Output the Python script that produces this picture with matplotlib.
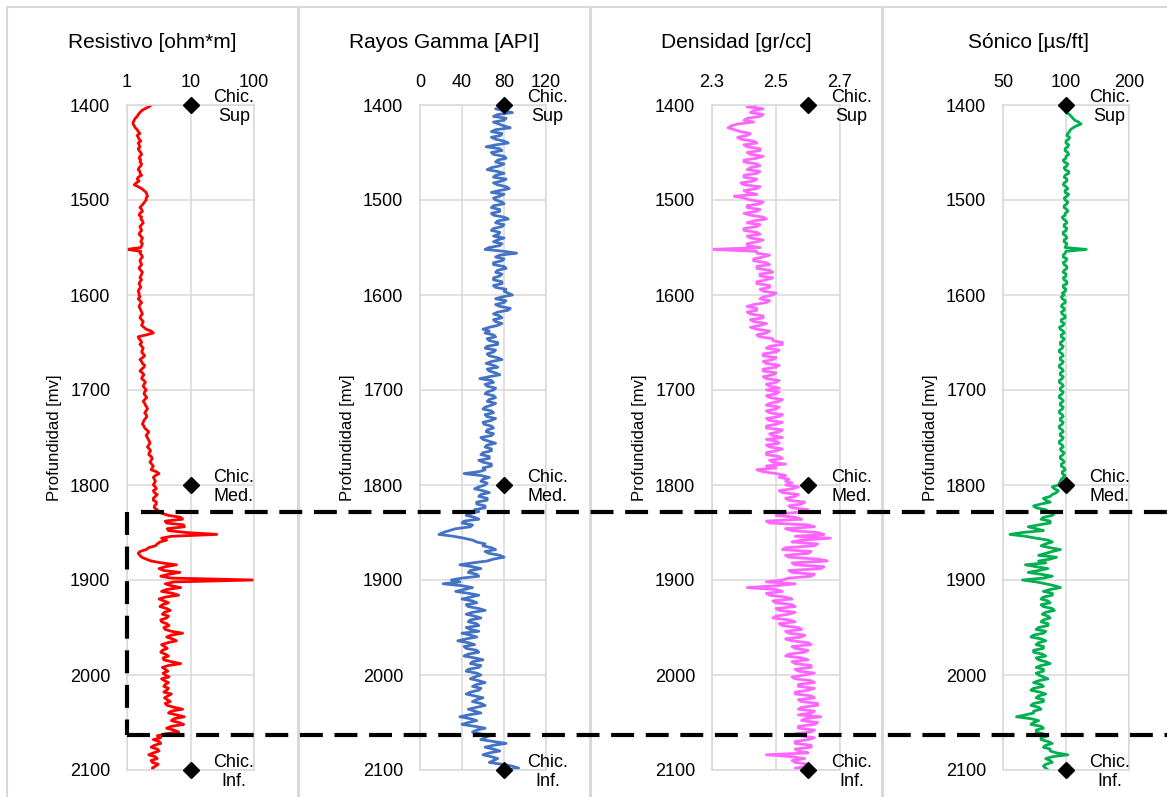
import matplotlib
matplotlib.use("Agg")
import matplotlib.pyplot as plt
import numpy as np
from matplotlib.lines import Line2D
from matplotlib.patches import Rectangle
from matplotlib.transforms import blended_transform_factory

plt.rcParams['font.family'] = ['Liberation Sans', 'DejaVu Sans']

# depth of each sample [mv], one reading every 2 m
depth = np.arange(1400, 2101, 2)

resistivo = [
    2.4, 2.2, 1.9, 1.7, 1.6, 1.5, 1.45, 1.35, 1.3, 1.25, 1.25, 1.3, 1.35, 1.45, 1.5, 1.6, 1.45, 1.5, 1.55, 1.65,
    1.5, 1.55, 1.6, 1.5, 1.55, 1.65, 1.7, 1.6, 1.55, 1.65, 1.6, 1.7, 1.65, 1.55, 1.5, 1.6, 1.6, 1.7, 1.5, 1.45,
    1.55, 1.4, 1.3, 1.5, 1.7, 1.85, 2.0, 2.05, 2.1, 2.0,
    2.0, 1.9, 1.8, 1.7, 1.6, 1.7, 1.75, 1.6, 1.55, 1.7, 1.65, 1.75, 1.8, 1.7, 1.6, 1.65, 1.7, 1.6, 1.55, 1.65,
    1.75, 1.7, 1.65, 1.75, 1.7, 1.65, 1.0, 1.65, 1.6, 1.7, 1.75, 1.65, 1.6, 1.65, 1.7, 1.6, 1.55, 1.65, 1.75, 1.7,
    1.65, 1.6, 1.7, 1.6, 1.55, 1.6, 1.65, 1.55, 1.5, 1.55,
    1.55, 1.6, 1.5, 1.6, 1.7, 1.6, 1.55, 1.6, 1.65, 1.7, 1.75, 1.65, 1.6, 1.7, 1.8, 1.75, 1.7, 1.85, 2.0, 2.4,
    2.6, 2.0, 1.5, 1.55, 1.65, 1.7, 1.6, 1.7, 1.8, 1.75, 1.7, 1.8, 1.9, 1.75, 1.6, 1.7, 1.75, 1.9, 1.85, 1.7,
    1.6, 1.75, 1.85, 1.75, 1.7, 1.85, 1.95, 1.85, 1.8, 1.9,
    2.0, 1.9, 1.85, 1.95, 2.05, 1.9, 1.8, 1.9, 1.95, 2.05, 2.1, 2.0, 1.9, 2.0, 2.05, 1.95, 1.85, 1.8, 1.75, 1.85,
    1.9, 2.05, 2.2, 2.1, 2.0, 2.1, 2.15, 2.25, 2.3, 2.2, 2.1, 2.25, 2.35, 2.25, 2.2, 2.4, 2.5, 2.4, 2.3, 2.45,
    2.6, 2.5, 2.4, 2.9, 3.2, 2.8, 2.6, 2.7, 2.8, 2.7,
    2.6, 2.8, 2.9, 2.6, 2.7, 3.0, 2.8, 2.6, 2.6, 2.9, 2.9, 2.7, 2.7, 3.0, 3.0, 3.6, 4.5, 7.0, 7.5, 4.0,
    4.2, 7.8, 8.0, 4.3, 4.5, 8.5, 26, 5.0, 3.5, 4.2, 3.3, 3.0, 2.8, 2.2, 2.0, 1.6, 1.5, 1.6, 1.7, 2.0,
    2.4, 3.5, 6.0, 4.0, 3.2, 3.8, 6.8, 4.5, 3.4, 5.0,
    100, 5.5, 4.0, 5.0, 7.0, 4.2, 3.5, 5.2, 6.5, 4.0, 3.2, 3.8, 4.5, 3.6, 3.3, 4.2, 4.8, 3.9, 3.6, 4.5,
    4.2, 3.4, 3.5, 4.2, 4.6, 3.8, 4.0, 5.0, 7.5, 5.0, 4.2, 5.2, 6.0, 4.4, 3.5, 3.9, 4.3, 3.6, 3.4, 4.0,
    4.5, 3.7, 3.8, 5.0, 7.0, 4.5, 3.6, 4.0, 4.4, 3.7,
    4.0, 4.6, 3.5, 3.9, 4.5, 4.0, 3.8, 4.5, 4.2, 3.8, 5.0, 4.4, 3.9, 4.3, 4.8, 4.0, 4.3, 5.5, 7.5, 5.0,
    4.5, 6.0, 8.0, 5.5, 5.0, 6.5, 7.8, 5.0, 4.2, 5.5, 6.5, 4.0, 3.0, 3.4, 2.6, 3.2, 3.4, 2.7, 2.4, 3.0,
    3.2, 2.6, 2.2, 2.8, 3.0, 2.4, 2.5, 3.1, 2.8, 2.5,
    2.6]

gamma = [
    78, 84, 72, 80, 88, 74, 70, 82, 80, 70, 75, 80, 86, 72, 68, 78, 77, 68, 72, 80,
    84, 72, 63, 76, 78, 68, 70, 80, 82, 74, 72, 80, 76, 68, 64, 74, 80, 72, 70, 82,
    78, 70, 74, 82, 85, 76, 68, 80, 76, 70,
    72, 78, 80, 70, 68, 76, 76, 68, 70, 80, 84, 74, 72, 80, 78, 70, 68, 76, 75, 70,
    80, 74, 70, 78, 76, 66, 62, 80, 92, 76, 72, 80, 78, 70, 70, 80, 82, 74, 72, 78,
    76, 70, 70, 78, 78, 70, 72, 82, 80, 84,
    88, 78, 72, 82, 80, 72, 76, 86, 84, 74, 70, 76, 78, 70, 72, 78, 74, 66, 60, 66,
    62, 70, 72, 64, 66, 74, 74, 64, 62, 72, 70, 64, 66, 74, 78, 68, 63, 70, 74, 64,
    66, 72, 76, 66, 57, 68, 70, 62, 64, 72,
    70, 64, 62, 70, 72, 66, 64, 72, 68, 62, 60, 68, 70, 62, 64, 72, 68, 60, 61, 68,
    70, 64, 63, 70, 68, 58, 60, 66, 72, 64, 62, 68, 68, 60, 58, 66, 66, 56, 60, 68,
    68, 60, 62, 56, 42, 58, 66, 60, 58, 64,
    62, 56, 52, 60, 66, 58, 56, 64, 64, 54, 54, 62, 62, 52, 56, 48, 44, 52, 56, 42,
    40, 50, 48, 34, 28, 22, 18, 32, 42, 50, 54, 62, 60, 68, 72, 62, 66, 76, 80, 70,
    64, 50, 38, 50, 58, 48, 46, 54, 56, 40,
    30, 38, 22, 40, 50, 42, 34, 46, 56, 48, 40, 50, 54, 44, 46, 56, 62, 50, 44, 52,
    58, 48, 46, 54, 56, 44, 48, 56, 40, 48, 54, 44, 36, 46, 52, 42, 44, 54, 56, 46,
    42, 52, 60, 50, 48, 58, 56, 46, 44, 54,
    58, 52, 48, 56, 62, 54, 50, 58, 56, 48, 44, 52, 60, 54, 50, 58, 62, 54, 46, 52,
    58, 46, 38, 48, 54, 46, 40, 52, 62, 54, 50, 58, 66, 62, 58, 70, 82, 70, 62, 70,
    76, 66, 60, 68, 74, 70, 66, 78, 88, 94,
    84]

densidad = [
    2.44, 2.41, 2.46, 2.43, 2.42, 2.46, 2.45, 2.41, 2.40, 2.43, 2.38, 2.36, 2.35, 2.37, 2.39, 2.42, 2.41, 2.38, 2.39, 2.43,
    2.44, 2.40, 2.41, 2.45, 2.45, 2.41, 2.42, 2.46, 2.44, 2.40, 2.40, 2.44, 2.45, 2.42, 2.41, 2.45, 2.44, 2.40, 2.40, 2.44,
    2.43, 2.39, 2.40, 2.45, 2.44, 2.40, 2.41, 2.44, 2.37, 2.40,
    2.42, 2.46, 2.45, 2.41, 2.41, 2.45, 2.44, 2.40, 2.42, 2.46, 2.47, 2.43, 2.41, 2.45, 2.44, 2.40, 2.40, 2.44, 2.45, 2.41,
    2.42, 2.46, 2.44, 2.41, 2.41, 2.45, 2.30, 2.44, 2.44, 2.48, 2.46, 2.43, 2.43, 2.47, 2.48, 2.44, 2.44, 2.48, 2.49, 2.45,
    2.45, 2.49, 2.47, 2.44, 2.44, 2.48, 2.48, 2.45, 2.46, 2.50,
    2.49, 2.46, 2.45, 2.48, 2.47, 2.43, 2.41, 2.44, 2.44, 2.41, 2.42, 2.46, 2.46, 2.42, 2.43, 2.47, 2.45, 2.42, 2.44, 2.48,
    2.47, 2.44, 2.45, 2.49, 2.49, 2.52, 2.52, 2.48, 2.47, 2.51, 2.50, 2.46, 2.46, 2.50, 2.49, 2.46, 2.47, 2.51, 2.50, 2.46,
    2.46, 2.50, 2.49, 2.46, 2.47, 2.51, 2.50, 2.47, 2.48, 2.51,
    2.47, 2.51, 2.50, 2.47, 2.48, 2.52, 2.51, 2.48, 2.47, 2.51, 2.50, 2.47, 2.48, 2.52, 2.51, 2.47, 2.48, 2.52, 2.50, 2.47,
    2.47, 2.52, 2.51, 2.48, 2.49, 2.52, 2.47, 2.50, 2.51, 2.47, 2.48, 2.52, 2.50, 2.47, 2.47, 2.51, 2.52, 2.48, 2.49, 2.53,
    2.47, 2.50, 2.44, 2.46, 2.50, 2.53, 2.51, 2.54, 2.53, 2.55,
    2.53, 2.57, 2.55, 2.51, 2.52, 2.57, 2.56, 2.53, 2.54, 2.59, 2.58, 2.54, 2.55, 2.60, 2.60, 2.52, 2.50, 2.56, 2.58, 2.47,
    2.48, 2.60, 2.62, 2.53, 2.55, 2.63, 2.65, 2.56, 2.67, 2.58, 2.55, 2.63, 2.62, 2.53, 2.52, 2.61, 2.60, 2.53, 2.54, 2.63,
    2.66, 2.55, 2.56, 2.65, 2.64, 2.54, 2.55, 2.62, 2.61, 2.54,
    2.52, 2.47, 2.56, 2.50, 2.41, 2.50, 2.52, 2.47, 2.48, 2.53, 2.55, 2.49, 2.50, 2.55, 2.56, 2.50, 2.51, 2.56, 2.54, 2.50,
    2.49, 2.54, 2.56, 2.51, 2.52, 2.57, 2.58, 2.53, 2.54, 2.59, 2.58, 2.53, 2.55, 2.60, 2.61, 2.55, 2.56, 2.60, 2.59, 2.54,
    2.53, 2.58, 2.60, 2.55, 2.56, 2.61, 2.61, 2.56, 2.57, 2.62,
    2.59, 2.55, 2.56, 2.61, 2.62, 2.57, 2.57, 2.62, 2.60, 2.56, 2.56, 2.61, 2.62, 2.57, 2.58, 2.63, 2.63, 2.58, 2.57, 2.62,
    2.61, 2.57, 2.64, 2.59, 2.58, 2.63, 2.62, 2.57, 2.57, 2.62, 2.61, 2.56, 2.58, 2.62, 2.60, 2.56, 2.56, 2.61, 2.61, 2.56,
    2.57, 2.60, 2.47, 2.55, 2.59, 2.55, 2.56, 2.60, 2.60, 2.56,
    2.58]

sonico = [
    95, 100, 104, 102, 100, 104, 106, 108, 110, 115, 118, 112, 108, 105, 104, 102, 101, 104, 103, 100,
    100, 103, 102, 99, 99, 102, 103, 100, 100, 97, 98, 102, 101, 98, 99, 103, 103, 99, 98, 101,
    101, 98, 97, 100, 102, 99, 99, 103, 101, 98,
    99, 102, 101, 98, 98, 101, 102, 99, 99, 96, 97, 100, 101, 98, 98, 101, 100, 97, 97, 100,
    101, 98, 98, 101, 100, 99, 125, 100, 99, 97, 97, 101, 100, 97, 98, 101, 101, 98, 97, 100,
    100, 97, 98, 101, 101, 97, 97, 100, 99, 96,
    98, 95, 96, 99, 99, 96, 95, 98, 98, 95, 96, 99, 99, 95, 95, 98, 97, 93, 94, 97,
    98, 95, 95, 98, 97, 94, 94, 97, 96, 93, 93, 96, 97, 94, 94, 97, 96, 93, 93, 96,
    97, 94, 94, 97, 96, 93, 93, 96, 97, 94,
    94, 97, 96, 93, 93, 96, 97, 94, 94, 97, 96, 93, 93, 96, 97, 94, 94, 97, 96, 93,
    93, 96, 97, 94, 94, 97, 96, 93, 93, 96, 97, 94, 95, 98, 97, 94, 94, 97, 98, 95,
    95, 98, 99, 96, 96, 99, 97, 95, 94, 93,
    92, 86, 88, 92, 90, 86, 84, 78, 80, 84, 76, 70, 72, 80, 82, 88, 86, 78, 76, 84,
    84, 74, 66, 72, 78, 62, 54, 64, 72, 82, 86, 80, 76, 84, 94, 86, 80, 74, 90, 84,
    74, 80, 64, 72, 82, 74, 66, 76, 86, 78,
    62, 72, 80, 88, 94, 84, 78, 86, 86, 78, 76, 82, 84, 76, 78, 86, 88, 80, 77, 82,
    84, 78, 76, 82, 82, 74, 72, 80, 78, 70, 68, 76, 80, 74, 72, 78, 78, 70, 70, 77,
    80, 72, 74, 80, 84, 76, 72, 78, 78, 72,
    74, 78, 82, 74, 70, 76, 78, 70, 68, 75, 80, 74, 72, 78, 78, 70, 68, 74, 76, 70,
    70, 64, 58, 68, 74, 70, 68, 76, 78, 72, 72, 78, 82, 76, 76, 82, 86, 80, 78, 84,
    84, 90, 102, 86, 80, 84, 86, 80, 78, 80,
    82]

titles = ['Resistivo [ohm*m]', 'Rayos Gamma [API]', 'Densidad [gr/cc]', 'Sónico [µs/ft]']
xticks = [[1, 10, 100], [0, 40, 80, 120], [2.3, 2.5, 2.7], [50, 100, 200]]
xticklabels = [['1', '10', '100'], ['0', '40', '80', '120'], ['2.3', '2.5', '2.7'], ['50', '100', '200']]
xlims = [(1, 100), (0, 120), (2.3, 2.7), (50, 200)]
colors = ['#FF0000', '#4472C4', '#FF66FF', '#00B050']

# formation tops
tops_depth = [1400, 1800, 2100]
tops_name = ['Chic.\nSup', 'Chic.\nMed.', 'Chic.\nInf.']
tops_x = [10, 80, 2.6, 100]

# dashed interval
cut_depth = [1828, 2063]

W, H = 1167, 797
GRAY = '#D9D9D9'


def fx(px):
    return px / W


def fy(py):
    return 1 - py / H


fig = plt.figure(figsize=(W / 100, H / 100), dpi=100)

# chart borders
for k in range(4):
    x0 = 7 + 292 * k
    fig.add_artist(Rectangle((fx(x0), fy(810)), 291 / W, 803 / H, transform=fig.transFigure,
                             fill=False, edgecolor=GRAY, lw=1.5, zorder=0))

axes_left = [127, 420, 712, 1003]
axes_width = [127, 126, 128, 126]
curves = [resistivo, gamma, densidad, sonico]
axes = []
for k in range(4):
    ax = fig.add_axes([fx(axes_left[k]), fy(770), axes_width[k] / W, 665 / H])
    axes.append(ax)
    if k == 0:
        ax.set_xscale('log')
    if k == 3:
        ax.set_xscale('log', base=2)
    ax.plot(curves[k], depth, color=colors[k], lw=2.0, zorder=2)
    ax.set_xlim(*xlims[k])
    ax.set_ylim(2100, 1400)
    ax.set_xticks(xticks[k])
    ax.set_xticklabels(xticklabels[k])
    ax.xaxis.set_minor_locator(plt.NullLocator())
    ax.set_yticks(range(1400, 2101, 100))
    ax.xaxis.tick_top()
    ax.tick_params(axis='x', length=0, pad=10, labelsize=13)
    ax.tick_params(axis='y', length=0, pad=12, labelsize=13)
    ax.grid(True, color=GRAY, lw=1.1, zorder=0)
    ax.set_axisbelow(True)
    for s in ax.spines.values():
        s.set_color(GRAY)
        s.set_linewidth(1.1)
    ax.set_ylabel('Profundidad [mv]', fontsize=12)
    ax.yaxis.set_label_coords(-65 / axes_width[k], 0.5)

    # markers for formation tops
    ax.plot([tops_x[k]] * 3, tops_depth, 'D', color='black', ms=8, clip_on=False, zorder=4)
    for d, name in zip(tops_depth, tops_name):
        ax.annotate(name, (tops_x[k], d), xytext=(16.5, -1.5), textcoords='offset points',
                    ha='left', va='center', multialignment='center', fontsize=13,
                    annotation_clip=False, zorder=5)

    fig.text(fx(152 + 292 * k), fy(42), titles[k], ha='center', va='center', fontsize=15)

# dashed lines marking the interval
ax0 = axes[0]
tr = blended_transform_factory(fig.transFigure, ax0.transData)
dash = dict(color='black', lw=3, dashes=(5.5, 2.8), zorder=10)
fig.add_artist(Line2D([fx(141), 1.0], [cut_depth[0]] * 2, transform=tr, **dash))
fig.add_artist(Line2D([fx(127), 1.0], [cut_depth[1]] * 2, transform=tr, **dash))
fig.add_artist(Line2D([xlims[0][0]] * 2, cut_depth, transform=ax0.transData, **dash))

fig.savefig('out.png', dpi=100)
